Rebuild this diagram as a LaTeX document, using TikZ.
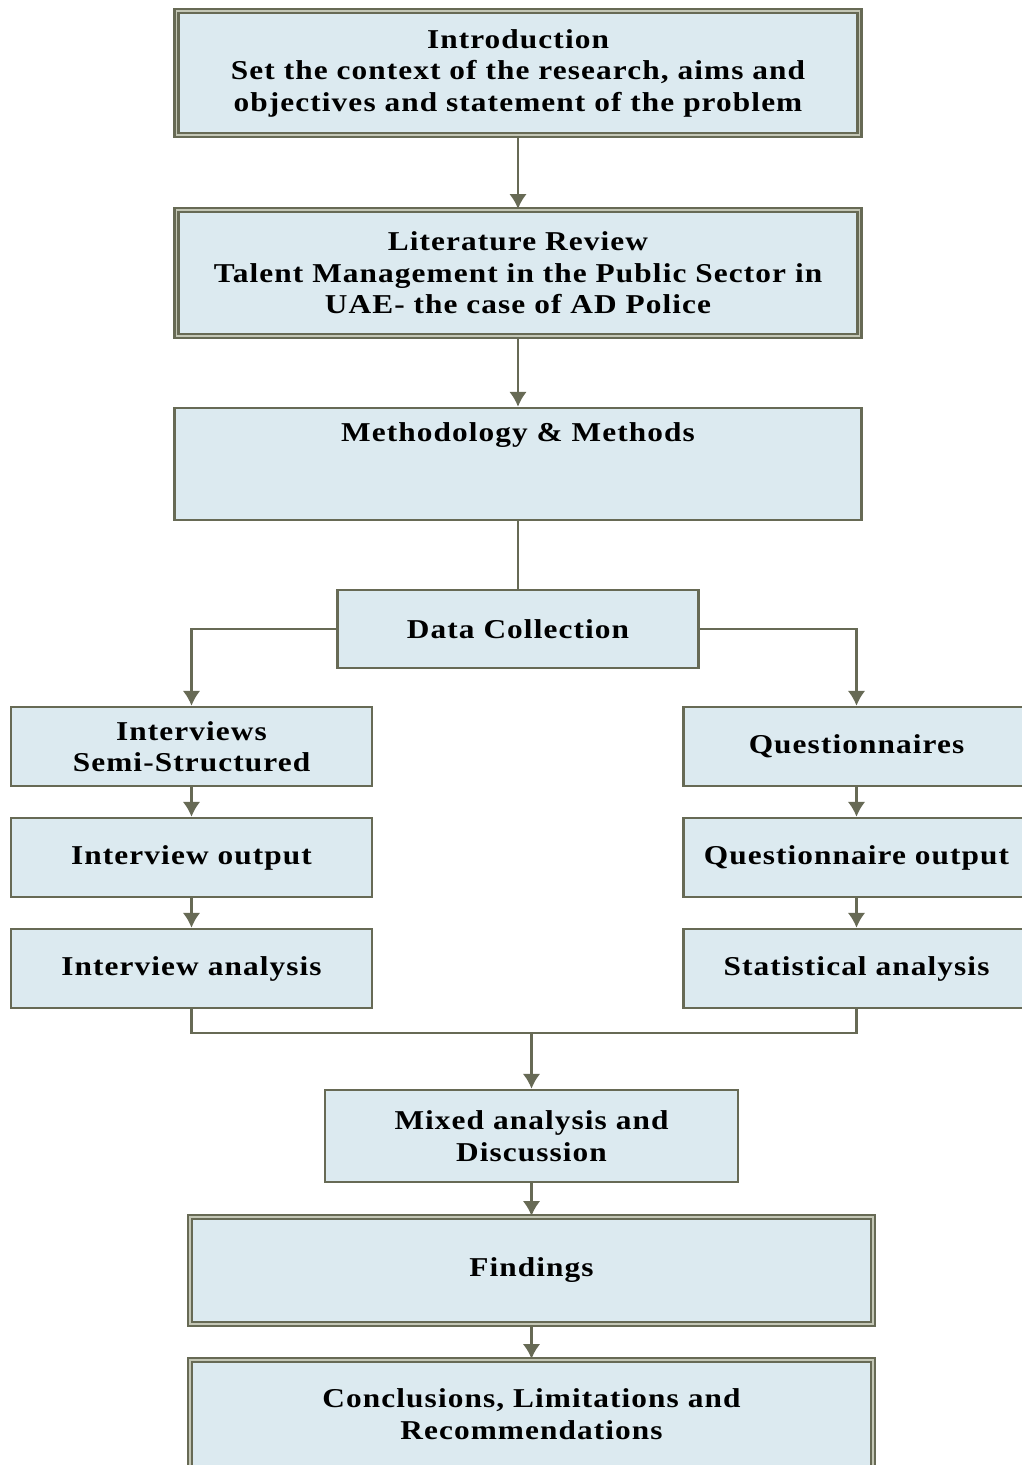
\documentclass[tikz,border=0pt]{standalone}
\usepackage{fontspec}
\setmainfont{Liberation Serif}[FakeStretch=1.15,LetterSpace=4]
\usetikzlibrary{arrows.meta}

\definecolor{boxfill}{HTML}{DCEAF0}
\definecolor{boxline}{HTML}{676A55}
\definecolor{boxgap}{HTML}{C4C7B6}

\tikzset{
  boxtext/.style={font=\fontsize{15.5}{17.9}\selectfont\bfseries},
  box/.style={draw=boxline, fill=boxfill, line width=1.4pt, align=center,
    inner sep=0pt, boxtext},
  dblbox/.style={box, line width=1.2pt, double=boxgap, double distance=1.1pt},
  link/.style={draw=boxline, line width=1.3pt}
}

\begin{document}
\begin{tikzpicture}[>={Latex[length=8.5pt,width=10pt]}]
  \useasboundingbox (0,0) rectangle (20.44,-29.30);

  \node[dblbox, minimum width=13.66cm, minimum height=2.48cm] (intro) at (10.36,-1.46)
    {Introduction\\Set the context of the research, aims and\\objectives and statement of the problem};
  \node[dblbox, minimum width=13.66cm, minimum height=2.52cm] (lit) at (10.36,-5.46)
    {Literature Review\\Talent Management in the Public Sector in\\UAE- the case of AD Police};
  \node[box, minimum width=13.74cm, minimum height=2.24cm,
    label={[anchor=north, yshift=-0.3cm, inner sep=0pt, boxtext]north:Methodology \& Methods}]
    (method) at (10.36,-9.28) {};
  \node[box, minimum width=7.22cm, minimum height=1.56cm] (dc) at (10.36,-12.58) {Data Collection};

  % interview branch
  \node[box, minimum width=7.22cm, minimum height=1.58cm] (iv) at (3.83,-14.93) {Interviews\\Semi-Structured};
  \node[box, minimum width=7.22cm, minimum height=1.58cm] (io) at (3.83,-17.15) {Interview output};
  \node[box, minimum width=7.22cm, minimum height=1.58cm] (ia) at (3.83,-19.37) {Interview analysis};

  % questionnaire branch
  \node[box, minimum width=6.92cm, minimum height=1.58cm] (qn) at (17.13,-14.93) {Questionnaires};
  \node[box, minimum width=6.92cm, minimum height=1.58cm] (qo) at (17.13,-17.15) {Questionnaire output};
  \node[box, minimum width=6.92cm, minimum height=1.58cm] (sa) at (17.13,-19.37) {Statistical analysis};

  \coordinate (join) at (10.63,-20.66);

  \node[box, minimum width=8.26cm, minimum height=1.84cm] (mix) at (10.63,-22.72) {Mixed analysis and\\Discussion};
  \node[dblbox, minimum width=13.66cm, minimum height=2.14cm] (find) at (10.63,-25.41) {Findings};
  \node[dblbox, minimum width=13.66cm, minimum height=2.16cm] (concl) at (10.63,-28.28)
    {Conclusions, Limitations and\\Recommendations};

  \draw[link,->] (intro) -- (lit);
  \draw[link,->] (lit) -- (method);
  \draw[link] (method) -- (dc);
  \draw[link,->] (dc.west) -| (iv.north);
  \draw[link,->] (dc.east) -| (qn.north);
  \draw[link,->] (iv) -- (io);
  \draw[link,->] (io) -- (ia);
  \draw[link,->] (qn) -- (qo);
  \draw[link,->] (qo) -- (sa);
  \draw[link] (ia.south) |- (join) -| (sa.south);
  \draw[link,->] (join) -- (mix);
  \draw[link,->] (mix) -- (find);
  \draw[link,->] (find) -- (concl);
\end{tikzpicture}
\end{document}
